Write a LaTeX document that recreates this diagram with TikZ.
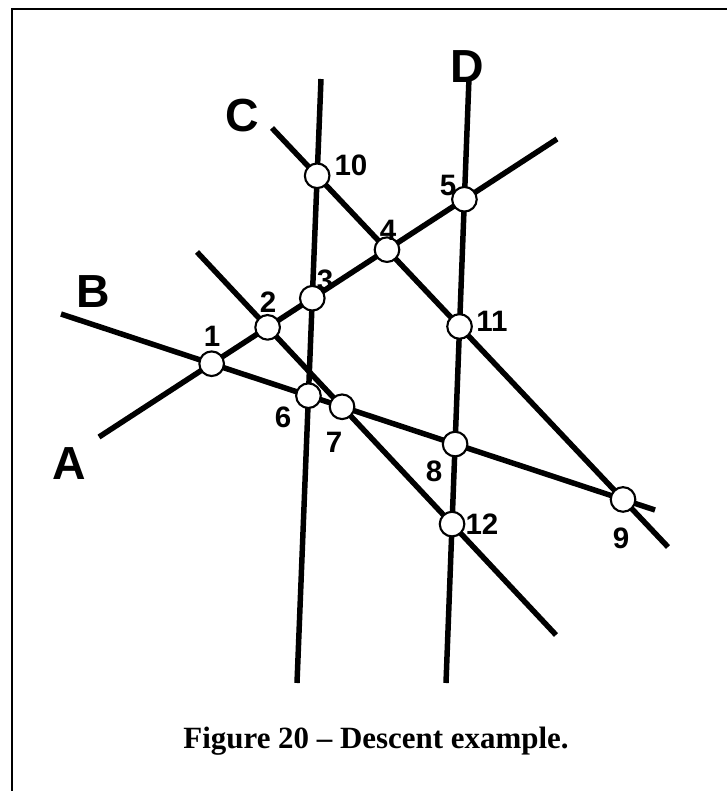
\documentclass[tikz,border=0pt]{standalone}
\usepackage{fontspec}
\setmainfont{Liberation Serif}
\newfontfamily\lblfont{Liberation Sans}
\usetikzlibrary{calc}

\begin{document}
\begin{tikzpicture}[x=0.025cm,y=-0.025cm,
  ray/.style={line width=3.9pt},
  xpt/.style={circle,draw,fill=white,line width=1.5pt,minimum size=17.5pt,inner sep=0pt},
  num/.style={font=\lblfont\bfseries\fontsize{21}{21}\selectfont,inner sep=0pt},
  big/.style={font=\lblfont\bfseries\fontsize{33}{33}\selectfont,inner sep=0pt},
]
\useasboundingbox (0,0) rectangle (727,791);
\draw[line width=1.6pt] (12,791) -- (12,9) -- (727,9);
% end points of the six lines
\coordinate (A0) at (99,437);  \coordinate (A1) at (557,139);
\coordinate (B0) at (61,314);  \coordinate (B1) at (655,510);
\coordinate (C0) at (272,128); \coordinate (C1) at (668,547);
\coordinate (D0) at (469,78);  \coordinate (D1) at (446,683);
\coordinate (V0) at (321,79);  \coordinate (V1) at (297,683);
\coordinate (E0) at (197,252); \coordinate (E1) at (556,635);
\draw[ray] (A0) -- (A1);
\draw[ray] (B0) -- (B1);
\draw[ray] (C0) -- (C1);
\draw[ray] (D0) -- (D1);
\draw[ray] (V0) -- (V1);
\draw[ray] (E0) -- (E1);
% crossing points
\node[xpt] (p1) at (intersection of A0--A1 and B0--B1) {};
\node[xpt] (p2) at (intersection of A0--A1 and E0--E1) {};
\node[xpt] (p3) at (intersection of A0--A1 and V0--V1) {};
\node[xpt] (p4) at (intersection of A0--A1 and C0--C1) {};
\node[xpt] (p5) at (intersection of A0--A1 and D0--D1) {};
\node[xpt] (p6) at (intersection of B0--B1 and V0--V1) {};
\node[xpt] (p7) at (intersection of B0--B1 and E0--E1) {};
\node[xpt] (p8) at (intersection of B0--B1 and D0--D1) {};
\node[xpt] (p9) at (intersection of B0--B1 and C0--C1) {};
\node[xpt] (p10) at (intersection of C0--C1 and V0--V1) {};
\node[xpt] (p11) at (intersection of C0--C1 and D0--D1) {};
\node[xpt] (p12) at (intersection of E0--E1 and D0--D1) {};
% labels
\node[big] (labA) at (69,464) {A};
\node[big] (labB) at (93,292) {B};
\node[big] (labC) at (242,116) {C};
\node[big] (labD) at (467,67) {D};
\node[num] (l1) at (212,336) {1};
\node[num] (l2) at (268,302) {2};
\node[num] (l3) at (325,280) {3};
\node[num] (l4) at (388,230) {4};
\node[num] (l5) at (448,185) {5};
\node[num] (l6) at (283,417) {6};
\node[num] (l7) at (334,442) {7};
\node[num] (l8) at (434,471) {8};
\node[num] (l9) at (621,538) {9};
\node[num] (l10) at (351,165) {10};
\node[num] (l11) at (492,321) {11};
\node[num] (l12) at (482,524) {12};
\node[font=\bfseries\fontsize{22}{22}\selectfont,anchor=base] (caption) at (376,748)
  {Figure 20 -- Descent example.};
\end{tikzpicture}
\end{document}
